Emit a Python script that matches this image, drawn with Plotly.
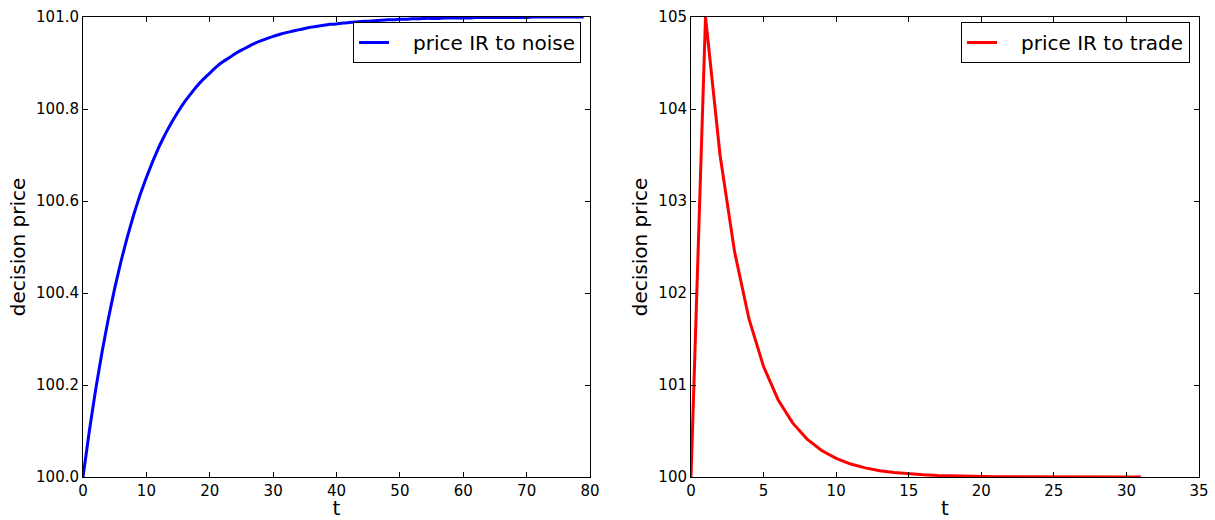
import plotly.graph_objects as go

# ---- data ----
t_noise = list(range(80))
price_noise = [
    100.000, 100.100, 100.190, 100.271, 100.344, 100.410, 100.469, 100.522, 100.570, 100.613,
    100.651, 100.686, 100.718, 100.746, 100.771, 100.794, 100.815, 100.833, 100.850, 100.865,
    100.878, 100.891, 100.902, 100.911, 100.920, 100.928, 100.935, 100.942, 100.948, 100.953,
    100.958, 100.962, 100.966, 100.969, 100.972, 100.975, 100.978, 100.980, 100.982, 100.984,
    100.985, 100.987, 100.988, 100.989, 100.990, 100.991, 100.992, 100.993, 100.994, 100.994,
    100.995, 100.995, 100.996, 100.996, 100.997, 100.997, 100.997, 100.998, 100.998, 100.998,
    100.998, 100.998, 100.999, 100.999, 100.999, 100.999, 100.999, 100.999, 100.999, 100.999,
    100.999, 101.000, 101.000, 101.000, 101.000, 101.000, 101.000, 101.000, 101.000, 101.000,
]
t_trade = list(range(32))
price_trade = [
    100.000, 105.000, 103.500, 102.450, 101.715, 101.200, 100.840, 100.588, 100.412, 100.288,
    100.202, 100.141, 100.099, 100.069, 100.048, 100.034, 100.024, 100.017, 100.012, 100.008,
    100.006, 100.004, 100.003, 100.002, 100.001, 100.001, 100.001, 100.000, 100.000, 100.000,
    100.000, 100.000,
]
noise_name = "price IR to noise"
trade_name = "price IR to trade"
x_label = "t"
y_label = "decision price"

W, H = 1215, 520
FONT = "DejaVu Sans"
PAD = "\u00a0\u00a0\u00a0"  # visual gap between legend line sample and text

fig = go.Figure()
fig.add_trace(go.Scatter(x=t_noise, y=price_noise, mode="lines", name=PAD + noise_name,
                         line=dict(color="#0000ff", width=3, shape="spline", smoothing=0.3),
                         xaxis="x", yaxis="y", legend="legend", showlegend=True))
fig.add_trace(go.Scatter(x=t_trade, y=price_trade, mode="lines", name=PAD + trade_name,
                         line=dict(color="#ff0000", width=3), xaxis="x2", yaxis="y2",
                         legend="legend2", showlegend=True))

ax_common = dict(showline=True, linecolor="black", linewidth=1, mirror="ticks",
                 ticks="inside", ticklen=5, tickwidth=1, tickcolor="black",
                 showgrid=False, zeroline=False, automargin=False,
                 tickfont=dict(family=FONT, size=15, color="black"))

ytop = 1 - 17 / H
ybot = 1 - 477 / H

legend_common = dict(xanchor="right", yanchor="top", y=1 - 22 / H,
                     bordercolor="black", borderwidth=1, bgcolor="white",
                     font=dict(family=FONT, size=20, color="black"))

fig.update_layout(
    width=W, height=H,
    margin=dict(l=0, r=0, t=0, b=0),
    paper_bgcolor="white", plot_bgcolor="white",
    font=dict(family=FONT, color="black"),
    showlegend=True,
    xaxis=dict(domain=[83 / W, 590 / W], range=[0, 80], dtick=10, anchor="y",
               title=dict(text=x_label, font=dict(size=20), standoff=5), **ax_common),
    yaxis=dict(domain=[ybot, ytop], range=[100, 101], dtick=0.2, tickformat=".1f",
               anchor="x", title=dict(text=y_label, font=dict(size=20), standoff=5),
               **ax_common),
    xaxis2=dict(domain=[691 / W, 1199 / W], range=[0, 35], dtick=5, anchor="y2",
                title=dict(text=x_label, font=dict(size=20), standoff=5), **ax_common),
    yaxis2=dict(domain=[ybot, ytop], range=[100, 105], dtick=1, anchor="x2",
                title=dict(text=y_label, font=dict(size=20), standoff=5), **ax_common),
    legend=dict(x=581 / W, **legend_common),
    legend2=dict(x=1190 / W, **legend_common),
)

fig.write_html("out.html", post_script="document.body.style.margin='0px';",
               config={"displayModeBar": False})
